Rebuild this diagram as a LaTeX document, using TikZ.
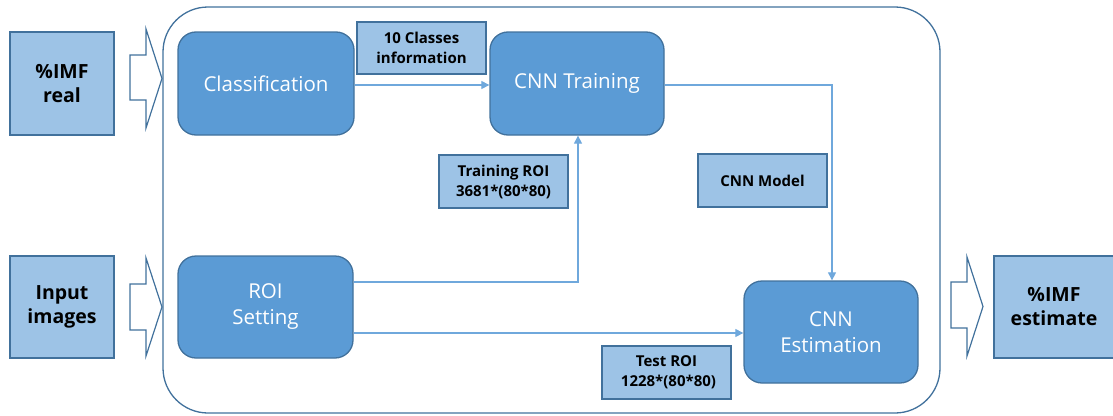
\documentclass[tikz,border=0pt]{standalone}
\usepackage{fontspec}
\setmainfont{Open Sans}
\usetikzlibrary{arrows.meta}
\definecolor{nodefill}{HTML}{5B9BD5}
\definecolor{nodeedge}{HTML}{41719C}
\definecolor{tagfill}{HTML}{9DC3E6}
\definecolor{linkcol}{HTML}{6FA8DC}
\tikzset{
  x=1pt, y=-1pt,
  stage/.style={draw=nodeedge, line width=1.3pt, fill=nodefill, rounded corners=18pt,
    text=white, font=\fontsize{20.5}{26}\selectfont, align=center, inner sep=0pt},
  tag/.style={draw=nodeedge, line width=1.2pt, fill=tagfill, font=\fontsize{15}{20}\selectfont\bfseries,
    align=center, inner sep=0pt},
  ioblock/.style={draw=nodeedge, line width=1.2pt, fill=tagfill, font=\fontsize{19.5}{24}\selectfont\bfseries,
    align=center, inner sep=0pt},
  frame/.style={draw=nodeedge, line width=1.3pt, rounded corners=45pt, inner sep=0pt},
  link/.style={draw=linkcol, line width=1.1pt, -{Triangle[length=8pt,width=8pt]}},
  hollow/.style={draw=nodeedge, line width=1.2pt, fill=white, line join=miter}
}
\begin{document}
\begin{tikzpicture}
\useasboundingbox (0,0) rectangle (1113,415);

% outer container
\node[frame, minimum width=777pt, minimum height=406pt] (box) at (551.5,210) {};

% input / output blocks
\node[ioblock, minimum width=104pt, minimum height=103pt] (real) at (62,83.5) {\%IMF\\real};
\node[ioblock, minimum width=104pt, minimum height=102pt] (input) at (62,307) {Input\\images};
\node[ioblock, minimum width=120pt, minimum height=102pt] (est) at (1054,307) {\%IMF\\estimate};

% processing stages
\node[stage, minimum width=176pt, minimum height=103pt] (cls) at (266,83.5) {Classification};
\node[stage, minimum width=174pt, minimum height=103pt] (train) at (577,83.5) {CNN Training};
\node[stage, minimum width=175pt, minimum height=102pt] (roi) at (265.5,307) {ROI\\Setting};
\node[stage, minimum width=174pt, minimum height=102pt] (cnnest) at (831,332) {CNN\\Estimation};

% data labels
\node[tag, minimum width=129pt, minimum height=52pt] (classes) at (421.5,48) {10 Classes\\information};
\node[tag, minimum width=129pt, minimum height=53pt] (trroi) at (503.5,181.5) {Training ROI\\3681*(80*80)};
\node[tag, minimum width=129pt, minimum height=53pt] (model) at (762.5,180.5) {CNN Model};
\node[tag, minimum width=129pt, minimum height=53pt] (teroi) at (666.5,372.5) {Test ROI\\\ 1228*(80*80)};

% hollow block arrows
\draw[hollow] (130,55) -- (146,55) -- (146,29) -- (162,78.5) -- (146,128) -- (146,100) -- (130,100) -- cycle;
\draw[hollow] (130,284) -- (146,284) -- (146,258) -- (162,307) -- (146,356) -- (146,330) -- (130,330) -- cycle;
\draw[hollow] (951,282) -- (967,282) -- (967,257) -- (983,306.5) -- (967,356) -- (967,328) -- (951,328) -- cycle;

% connectors
\coordinate (tr1) at (578,282);
\coordinate (tr2) at (832,85);
\draw[link] (cls.east |- 0,85) -- (train.west |- 0,85);
\draw[link] (roi.east |- 0,282) -- (tr1) -- (tr1 |- train.south);
\draw[link] (roi.east |- 0,333) -- (cnnest.west |- 0,333);
\draw[link] (train.east |- 0,85) -- (tr2) -- (tr2 |- cnnest.north);
\end{tikzpicture}
\end{document}
